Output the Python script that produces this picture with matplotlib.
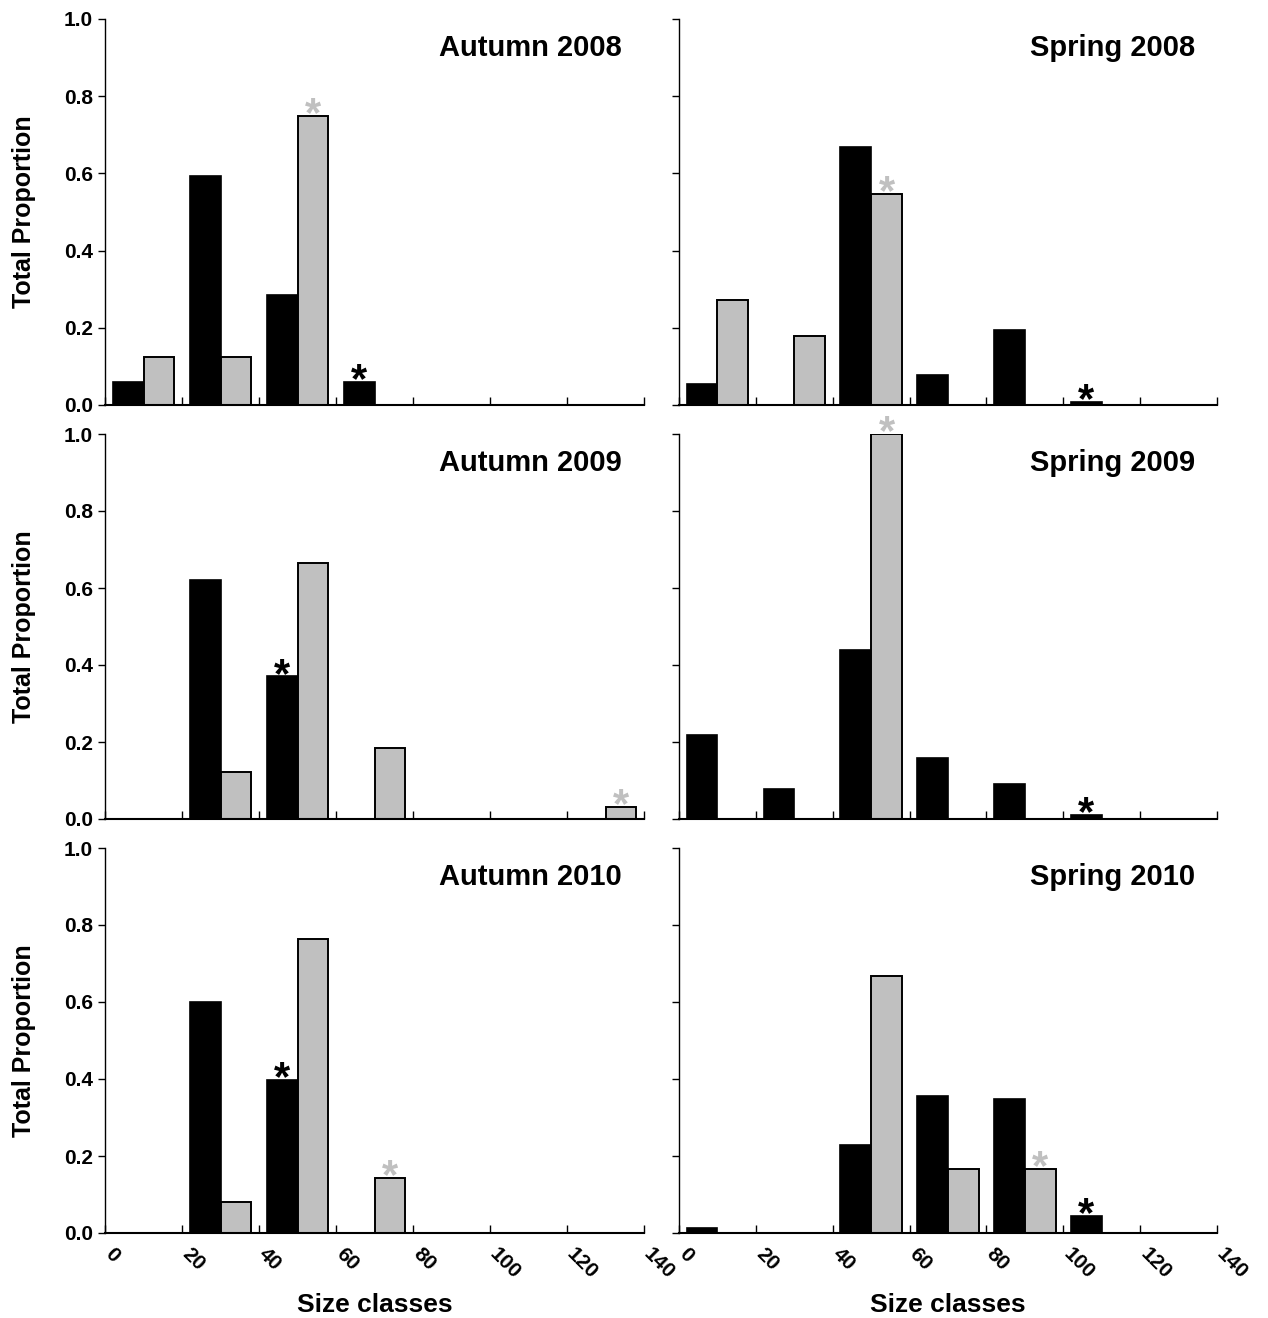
import matplotlib
matplotlib.use("Agg")
import matplotlib.pyplot as plt
from matplotlib.transforms import ScaledTranslation
import numpy as np

plt.rcParams["font.family"] = ["Liberation Sans", "DejaVu Sans"]
plt.rcParams["font.weight"] = "bold"

# size classes (lower bound of each 20 mm class)
classes = [0, 20, 40, 60, 80, 100, 120]

titles = ["Autumn 2008", "Spring 2008",
          "Autumn 2009", "Spring 2009",
          "Autumn 2010", "Spring 2010"]

# black series
black_a08 = [0.06, 0.593, 0.285, 0.06, 0, 0, 0]
black_s08 = [0.054, 0, 0.668, 0.078, 0.194, 0.008, 0]
black_a09 = [0, 0.621, 0.371, 0, 0, 0, 0]
black_s09 = [0.218, 0.078, 0.439, 0.158, 0.091, 0.01, 0]
black_a10 = [0, 0.60, 0.397, 0, 0, 0, 0]
black_s10 = [0.013, 0, 0.229, 0.356, 0.348, 0.044, 0]

# grey series
grey_a08 = [0.125, 0.125, 0.75, 0, 0, 0, 0]
grey_s08 = [0.272, 0.18, 0.547, 0, 0, 0, 0]
grey_a09 = [0, 0.122, 0.665, 0.184, 0, 0, 0.031]
grey_s09 = [0, 0, 1.0, 0, 0, 0, 0]
grey_a10 = [0, 0.081, 0.764, 0.143, 0, 0, 0]
grey_s10 = [0, 0, 0.668, 0.166, 0.166, 0, 0]

# significance asterisks: (series, class index)
stars_a08 = [("grey", 2), ("black", 3)]
stars_s08 = [("grey", 2), ("black", 5)]
stars_a09 = [("black", 2), ("grey", 6)]
stars_s09 = [("grey", 2), ("black", 5)]
stars_a10 = [("black", 2), ("grey", 3)]
stars_s10 = [("grey", 4), ("black", 5)]

blacks = [black_a08, black_s08, black_a09, black_s09, black_a10, black_s10]
greys = [grey_a08, grey_s08, grey_a09, grey_s09, grey_a10, grey_s10]
stars = [stars_a08, stars_s08, stars_a09, stars_s09, stars_a10, stars_s10]

GREY = "#c0c0c0"
W, H = 1268, 1318
fig = plt.figure(figsize=(W / 100, H / 100), dpi=100)

col_x = [(105, 644), (679, 1217)]
row_y = [(19, 405), (434, 819), (848, 1233)]

x = np.array(classes)
for i in range(6):
    r, c = divmod(i, 2)
    x0, x1 = col_x[c]
    y0, y1 = row_y[r]
    ax = fig.add_axes([x0 / W, 1 - y1 / H, (x1 - x0) / W, (y1 - y0) / H])

    b = np.array(blacks[i])
    g = np.array(greys[i])
    mb = b > 0
    mg = g > 0
    ax.bar(x[mb] + 6, b[mb], width=8, color="black", edgecolor="black", linewidth=1.2)
    ax.bar(x[mg] + 14, g[mg], width=8, color=GREY, edgecolor="black", linewidth=1.4)

    for which, k in stars[i]:
        if which == "black":
            xs, ys, col = classes[k] + 6, blacks[i][k], "black"
        else:
            xs, ys, col = classes[k] + 14, greys[i][k], GREY
        ax.annotate("*", (xs, ys), xytext=(0, -7.5), textcoords="offset points",
                    ha="center", va="baseline", fontsize=30, color=col,
                    annotation_clip=False)

    ax.set_xlim(0, 140)
    ax.set_ylim(0, 1.0)
    ax.spines["top"].set_visible(False)
    ax.spines["right"].set_visible(False)
    ax.spines["left"].set_linewidth(1.0)
    ax.spines["bottom"].set_linewidth(1.5)
    ax.set_xticks(range(0, 141, 20))
    ax.set_yticks(np.arange(0, 1.01, 0.2))
    ax.tick_params(axis="x", direction="in", length=6, width=1)
    ax.tick_params(axis="y", direction="out", length=5, width=1, labelsize=15)
    ax.yaxis.set_major_formatter(matplotlib.ticker.FormatStrFormatter("%.1f"))

    if c == 0:
        ax.set_ylabel("Total Proportion", fontsize=18, fontweight="bold")
        ax.yaxis.set_label_coords(-0.128, 0.5)
    else:
        ax.tick_params(axis="y", labelleft=False)

    if r == 2:
        ax.set_xticklabels([str(v) for v in range(0, 141, 20)], rotation=-45,
                           ha="left", va="top", rotation_mode="anchor", fontsize=15)
        ax.tick_params(axis="x", pad=8)
        shift = ScaledTranslation(7 / 72, 0, fig.dpi_scale_trans)
        for lbl in ax.get_xticklabels():
            lbl.set_transform(lbl.get_transform() + shift)
        ax.set_xlabel("Size classes", fontsize=19, fontweight="bold", labelpad=8)
    else:
        ax.tick_params(axis="x", labelbottom=False)

    ax.text(0.959, 0.904, titles[i], transform=ax.transAxes, ha="right", va="baseline",
            fontsize=21)

fig.savefig("out.png", dpi=100)
